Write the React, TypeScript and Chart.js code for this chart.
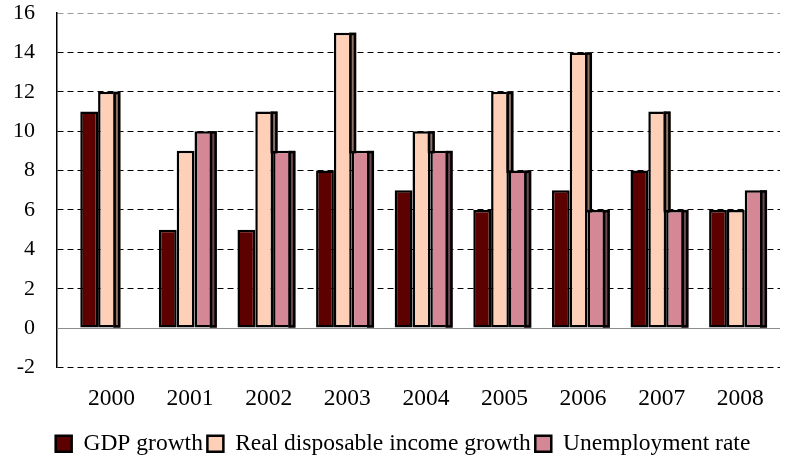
import React, { useEffect, useRef } from "react";
import { Chart, registerables } from "chart.js";

Chart.register(...registerables);

// Annual figures, %
const years = ["2000", "2001", "2002", "2003", "2004", "2005", "2006", "2007", "2008"];
const gdpGrowth: (number | null)[] = [11, 5, 5, 8, 7, 6, 7, 8, 6];
const incomeGrowth: (number | null)[] = [12, 9, 11, 15, 10, 12, 14, 11, 6];
const unemploymentRate: (number | null)[] = [null, 10, 9, 9, 9, 8, 6, 6, 7];

const seriesNames = ["GDP growth", "Real disposable income growth", "Unemployment rate"];
const yMin = -2;
const yMax = 16;
const yStep = 2;

const FONT = "'Liberation Serif', 'Times New Roman', serif";
const fills = ["#5c0000", "#ffd0b8", "#d48896"];
const sideFills = ["#3a0000", "#8a7266", "#6c4853"];

// right-hand depth face of each column, visible where the next column is lower
const sideFacePlugin = {
  id: "sideFaces",
  afterDatasetsDraw(chart: any) {
    const ctx = chart.ctx;
    const metas = chart.data.datasets.map((_: any, d: number) => chart.getDatasetMeta(d));
    const depth = 7;
    ctx.save();
    metas.forEach((meta: any, d: number) => {
      meta.data.forEach((bar: any, i: number) => {
        const v = chart.data.datasets[d].data[i]?.y;
        if (v == null) return;
        const p = bar.getProps(["x", "y", "base", "width"], true);
        let bottom = p.base;
        for (let n = d + 1; n < metas.length; n++) {
          const nv = chart.data.datasets[n].data[i]?.y;
          if (nv == null) continue;
          const np = metas[n].data[i].getProps(["y"], true);
          bottom = Math.min(bottom, np.y);
          break;
        }
        if (bottom - p.y <= 0.5) return;
        const x0 = p.x + p.width / 2 - 2.5;
        ctx.fillStyle = sideFills[d];
        ctx.fillRect(x0, p.y, depth, bottom - p.y);
        ctx.strokeStyle = "#000";
        ctx.lineWidth = 2.5;
        ctx.strokeRect(
          x0 + 1.25,
          p.y + 1.25,
          depth - 2.5,
          bottom - p.y - (bottom === p.base ? 2.5 : 0)
        );
      });
    });
    ctx.restore();
  },
};

// solid zero line under the columns; legend nudged to sit under the plot
const zeroLinePlugin = {
  id: "zeroLine",
  afterLayout(chart: any) {
    const lg = chart.legend;
    if (lg) {
      lg.left += 13;
      lg.right += 13;
    }
  },
  beforeDatasetsDraw(chart: any) {
    const { ctx, chartArea, scales } = chart;
    const y = Math.round(scales.y.getPixelForValue(0)) + 0.5;
    ctx.save();
    ctx.strokeStyle = "#8c8c8c";
    ctx.lineWidth = 1;
    ctx.beginPath();
    ctx.moveTo(chartArea.left, y);
    ctx.lineTo(chartArea.right, y);
    ctx.stroke();
    ctx.restore();
  },
};

export default function App() {
  const canvasRef = useRef<HTMLCanvasElement | null>(null);

  useEffect(() => {
    if (!canvasRef.current) return;
    const series = [gdpGrowth, incomeGrowth, unemploymentRate];
    const chart = new Chart(canvasRef.current, {
      type: "bar",
      data: {
        datasets: series.map((values, d) => ({
          label: seriesNames[d],
          data: values.map((y, i) => ({ x: i, y })),
          backgroundColor: fills[d],
          borderColor: "#000",
          borderWidth: 2.5,
          borderSkipped: false,
          categoryPercentage: 0.68,
          barPercentage: 1,
        })),
      },
      options: {
        animation: false,
        responsive: true,
        maintainAspectRatio: false,
        events: [],
        layout: { padding: { left: 0, right: 13, top: 0, bottom: -6.5 } },
        scales: {
          x: {
            type: "linear",
            offset: false,
            min: -0.636,
            max: 8.562,
            afterBuildTicks: (scale: any) => {
              scale.ticks = years.map((_, i) => ({ value: i }));
            },
            afterFit: (scale: any) => {
              scale.height = 60;
            },
            grid: { display: false, drawTicks: false, offset: false },
            border: { display: false },
            ticks: {
              autoSkip: false,
              maxRotation: 0,
              padding: 17,
              labelOffset: 4.5,
              color: "#000",
              font: { family: FONT, size: 23.5 },
              callback: (v: any) => years[v] ?? "",
            },
          },
          y: {
            min: yMin,
            max: yMax,
            afterFit: (scale: any) => {
              scale.width = 57;
              scale.paddingTop = 13;
              scale.paddingBottom = 13;
            },
            ticks: {
              stepSize: yStep,
              padding: 22,
              color: "#000",
              font: { family: FONT, size: 22 },
            },
            grid: {
              drawTicks: false,
              lineWidth: 1,
              color: (c: any) =>
                c.tick?.value === 0 ? "#8c8c8c" : c.tick?.value === yMax ? "#9a9a9a" : "#000",
            },
            border: { display: true, color: "#000", width: 1.5, dash: [6, 4] },
          },
        },
        plugins: {
          tooltip: { enabled: false },
          legend: {
            position: "bottom",
            labels: {
              color: "#000",
              font: { family: FONT, size: 23.5 },
              boxWidth: 16,
              boxHeight: 16,
              padding: 4.5,
            },
          },
        },
      },
      plugins: [zeroLinePlugin, sideFacePlugin],
    } as any);
    return () => chart.destroy();
  }, []);

  return (
    <div style={{ position: "absolute", left: 0, top: 0, width: 793, height: 459, background: "#fff" }}>
      <canvas ref={canvasRef} />
    </div>
  );
}
